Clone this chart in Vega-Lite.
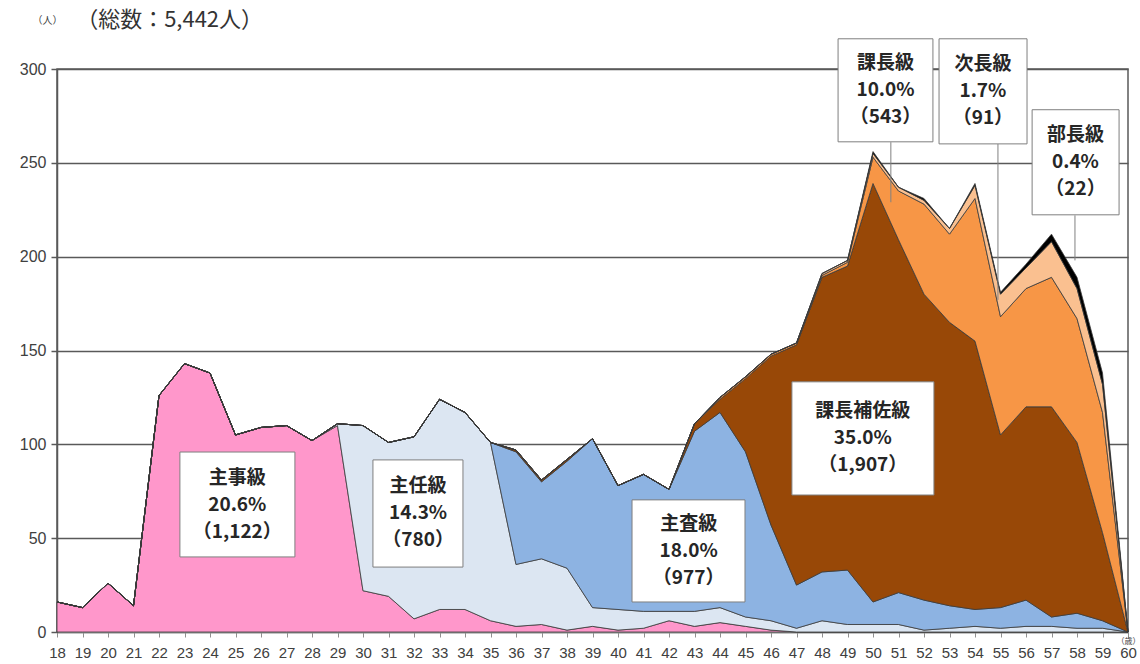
{
  "$schema": "https://vega.github.io/schema/vega-lite/v6.json",
  "width": 1071,
  "height": 563,
  "autosize": {"type": "none"},
  "padding": {"left": 57, "top": 69, "right": 12, "bottom": 32},
  "background": "white",
  "config": {
    "view": {"stroke": "#595959", "strokeWidth": 1.5},
    "font": "Liberation Sans",
    "axis": {"labelOverlap": false, "labelFlush": false},
    "axisX": {"grid": false, "labelFontSize": 15, "labelColor": "#404040", "labelPadding": 8, "tickSize": 5, "tickColor": "#909090", "domainColor": "#909090", "domainWidth": 1.5,
      "titleFontSize": 8, "titleFontWeight": "normal", "titleColor": "#404040", "titleX": 1071, "titleY": 9, "titleAlign": "center", "titleBaseline": "middle", "titleFont": "Noto Sans CJK JP"},
    "axisY": {"grid": true, "gridColor": "#595959", "gridWidth": 1.5, "labelFontSize": 16, "labelColor": "#404040", "labelPadding": 5, "tickSize": 6, "tickColor": "#595959", "tickWidth": 1.5,
      "domainColor": "#595959", "domainWidth": 1.5,
      "titleAngle": 0, "titleFontSize": 10, "titleFontWeight": "normal", "titleColor": "#404040", "titleX": -10, "titleY": -49, "titleAlign": "center", "titleBaseline": "middle", "titleFont": "Noto Sans CJK JP"}
  },
  "datasets": {
    "ages": [
      {"age":18,"主事級":16,"主任級":0,"主査級":0,"課長補佐級":0,"課長級":0,"次長級":0,"部長級":0},
      {"age":19,"主事級":13,"主任級":0,"主査級":0,"課長補佐級":0,"課長級":0,"次長級":0,"部長級":0},
      {"age":20,"主事級":26,"主任級":0,"主査級":0,"課長補佐級":0,"課長級":0,"次長級":0,"部長級":0},
      {"age":21,"主事級":14,"主任級":0,"主査級":0,"課長補佐級":0,"課長級":0,"次長級":0,"部長級":0},
      {"age":22,"主事級":126,"主任級":0,"主査級":0,"課長補佐級":0,"課長級":0,"次長級":0,"部長級":0},
      {"age":23,"主事級":143,"主任級":0,"主査級":0,"課長補佐級":0,"課長級":0,"次長級":0,"部長級":0},
      {"age":24,"主事級":138,"主任級":0,"主査級":0,"課長補佐級":0,"課長級":0,"次長級":0,"部長級":0},
      {"age":25,"主事級":105,"主任級":0,"主査級":0,"課長補佐級":0,"課長級":0,"次長級":0,"部長級":0},
      {"age":26,"主事級":109,"主任級":0,"主査級":0,"課長補佐級":0,"課長級":0,"次長級":0,"部長級":0},
      {"age":27,"主事級":110,"主任級":0,"主査級":0,"課長補佐級":0,"課長級":0,"次長級":0,"部長級":0},
      {"age":28,"主事級":102,"主任級":0,"主査級":0,"課長補佐級":0,"課長級":0,"次長級":0,"部長級":0},
      {"age":29,"主事級":110,"主任級":1,"主査級":0,"課長補佐級":0,"課長級":0,"次長級":0,"部長級":0},
      {"age":30,"主事級":22,"主任級":88,"主査級":0,"課長補佐級":0,"課長級":0,"次長級":0,"部長級":0},
      {"age":31,"主事級":19,"主任級":82,"主査級":0,"課長補佐級":0,"課長級":0,"次長級":0,"部長級":0},
      {"age":32,"主事級":7,"主任級":97,"主査級":0,"課長補佐級":0,"課長級":0,"次長級":0,"部長級":0},
      {"age":33,"主事級":12,"主任級":112,"主査級":0,"課長補佐級":0,"課長級":0,"次長級":0,"部長級":0},
      {"age":34,"主事級":12,"主任級":105,"主査級":0,"課長補佐級":0,"課長級":0,"次長級":0,"部長級":0},
      {"age":35,"主事級":6,"主任級":95,"主査級":0,"課長補佐級":0,"課長級":0,"次長級":0,"部長級":0},
      {"age":36,"主事級":3,"主任級":33,"主査級":60,"課長補佐級":1,"課長級":0,"次長級":0,"部長級":0},
      {"age":37,"主事級":4,"主任級":35,"主査級":41,"課長補佐級":1,"課長級":0,"次長級":0,"部長級":0},
      {"age":38,"主事級":1,"主任級":33,"主査級":57,"課長補佐級":1,"課長級":0,"次長級":0,"部長級":0},
      {"age":39,"主事級":3,"主任級":10,"主査級":90,"課長補佐級":0,"課長級":0,"次長級":0,"部長級":0},
      {"age":40,"主事級":1,"主任級":11,"主査級":66,"課長補佐級":0,"課長級":0,"次長級":0,"部長級":0},
      {"age":41,"主事級":2,"主任級":9,"主査級":73,"課長補佐級":0,"課長級":0,"次長級":0,"部長級":0},
      {"age":42,"主事級":6,"主任級":5,"主査級":65,"課長補佐級":0,"課長級":0,"次長級":0,"部長級":0},
      {"age":43,"主事級":3,"主任級":8,"主査級":96,"課長補佐級":4,"課長級":0,"次長級":0,"部長級":0},
      {"age":44,"主事級":5,"主任級":8,"主査級":104,"課長補佐級":7,"課長級":1,"次長級":0,"部長級":0},
      {"age":45,"主事級":3,"主任級":5,"主査級":88,"課長補佐級":39,"課長級":1,"次長級":0,"部長級":0},
      {"age":46,"主事級":1,"主任級":5,"主査級":51,"課長補佐級":90,"課長級":1,"次長級":0,"部長級":0},
      {"age":47,"主事級":0,"主任級":2,"主査級":23,"課長補佐級":128,"課長級":1,"次長級":0,"部長級":0},
      {"age":48,"主事級":0,"主任級":6,"主査級":26,"課長補佐級":157,"課長級":1,"次長級":1,"部長級":0},
      {"age":49,"主事級":0,"主任級":4,"主査級":29,"課長補佐級":162,"課長級":2,"次長級":1,"部長級":0},
      {"age":50,"主事級":0,"主任級":4,"主査級":12,"課長補佐級":223,"課長級":14,"次長級":2,"部長級":1},
      {"age":51,"主事級":0,"主任級":4,"主査級":17,"課長補佐級":188,"課長級":26,"次長級":2,"部長級":0},
      {"age":52,"主事級":0,"主任級":1,"主査級":16,"課長補佐級":163,"課長級":48,"次長級":2,"部長級":1},
      {"age":53,"主事級":0,"主任級":2,"主査級":12,"課長補佐級":151,"課長級":47,"次長級":3,"部長級":0},
      {"age":54,"主事級":0,"主任級":3,"主査級":9,"課長補佐級":143,"課長級":76,"次長級":7,"部長級":1},
      {"age":55,"主事級":0,"主任級":2,"主査級":11,"課長補佐級":92,"課長級":63,"次長級":12,"部長級":1},
      {"age":56,"主事級":0,"主任級":3,"主査級":14,"課長補佐級":103,"課長級":63,"次長級":11,"部長級":2},
      {"age":57,"主事級":0,"主任級":3,"主査級":5,"課長補佐級":112,"課長級":69,"次長級":19,"部長級":4},
      {"age":58,"主事級":0,"主任級":2,"主査級":8,"課長補佐級":91,"課長級":66,"次長級":16,"部長級":6},
      {"age":59,"主事級":0,"主任級":2,"主査級":4,"課長補佐級":47,"課長級":64,"次長級":15,"部長級":6},
      {"age":60,"主事級":0,"主任級":0,"主査級":0,"課長補佐級":0,"課長級":0,"次長級":0,"部長級":0}
    ],
    "labels": [
      {"label":"主事級\n20.6%\n（1,122）","x1":22.82,"x2":27.33,"y1":95.9,"y2":40.0,"cx":25.07,"cy":67.9},
      {"label":"主任級\n14.3%\n（780）","x1":30.39,"x2":33.92,"y1":91.7,"y2":34.6,"cx":32.16,"cy":63.2},
      {"label":"主査級\n18.0%\n（977）","x1":40.55,"x2":44.98,"y1":70.4,"y2":16.0,"cx":42.77,"cy":43.2},
      {"label":"課長補佐級\n35.0%\n（1,907）","x1":46.82,"x2":52.39,"y1":133.3,"y2":73.0,"cx":49.6,"cy":103.2},
      {"label":"課長級\n10.0%\n（543）","x1":48.63,"x2":52.35,"y1":316.1,"y2":261.2,"cx":50.49,"cy":288.7},
      {"label":"次長級\n1.7%\n（91）","x1":52.59,"x2":56.04,"y1":316.1,"y2":260.1,"cx":54.31,"cy":288.1},
      {"label":"部長級\n0.4%\n（22）","x1":56.24,"x2":59.65,"y1":278.3,"y2":222.3,"cx":57.94,"cy":250.3}
    ],
    "leaders": [
      {"x":50.7,"y1":261,"y2":229},
      {"x":54.9,"y1":260,"y2":177},
      {"x":57.92,"y1":222,"y2":198}
    ]
  },
  "layer": [
    {
      "data": {"name": "ages"},
      "transform": [
        {"fold": ["主事級","主任級","主査級","課長補佐級","課長級","次長級","部長級"], "as": ["level","count"]},
        {"lookup": "level", "from": {"data": {"values": [
          {"level":"主事級","k":1},{"level":"主任級","k":2},{"level":"主査級","k":3},{"level":"課長補佐級","k":4},
          {"level":"課長級","k":5},{"level":"次長級","k":6},{"level":"部長級","k":7}]}, "key": "level", "fields": ["k"]}}
      ],
      "mark": {"type": "area", "stroke": "#3a3a3a", "strokeWidth": 0.8, "opacity": 1, "interpolate": "linear"},
      "encoding": {
        "x": {"field": "age", "type": "quantitative", "scale": {"domain": [18, 60], "nice": false, "zero": false},
          "axis": {"values": [18,19,20,21,22,23,24,25,26,27,28,29,30,31,32,33,34,35,36,37,38,39,40,41,42,43,44,45,46,47,48,49,50,51,52,53,54,55,56,57,58,59,60], "format": "d", "title": "（歳）"}},
        "y": {"field": "count", "type": "quantitative", "stack": "zero", "scale": {"domain": [0, 300], "nice": false},
          "axis": {"values": [0,50,100,150,200,250,300], "title": "（人）"}},
        "color": {"field": "level", "type": "nominal",
          "scale": {"domain": ["主事級","主任級","主査級","課長補佐級","課長級","次長級","部長級"],
            "range": ["#FF97CB","#DCE6F2","#8DB3E2","#984807","#F79646","#FAC090","#000000"]},
          "legend": null},
        "order": {"field": "k", "type": "quantitative", "sort": "ascending"}
      }
    },
    {
      "data": {"name": "leaders"},
      "mark": {"type": "rule", "color": "#808080", "strokeWidth": 1},
      "encoding": {
        "x": {"field": "x", "type": "quantitative", "scale": {"domain": [18, 60], "nice": false, "zero": false},
          "axis": {"values": [18,19,20,21,22,23,24,25,26,27,28,29,30,31,32,33,34,35,36,37,38,39,40,41,42,43,44,45,46,47,48,49,50,51,52,53,54,55,56,57,58,59,60], "format": "d", "title": "（歳）"}},
        "y": {"field": "y1", "type": "quantitative", "scale": {"domain": [0, 300], "nice": false},
          "axis": {"values": [0,50,100,150,200,250,300], "title": "（人）"}},
        "y2": {"field": "y2"}
      }
    },
    {
      "data": {"name": "labels"},
      "mark": {"type": "rect", "fill": "white", "stroke": "#7f7f7f", "strokeWidth": 1},
      "encoding": {
        "x": {"field": "x1", "type": "quantitative", "scale": {"domain": [18, 60], "nice": false, "zero": false},
          "axis": {"values": [18,19,20,21,22,23,24,25,26,27,28,29,30,31,32,33,34,35,36,37,38,39,40,41,42,43,44,45,46,47,48,49,50,51,52,53,54,55,56,57,58,59,60], "format": "d", "title": "（歳）"}},
        "x2": {"field": "x2"},
        "y": {"field": "y1", "type": "quantitative", "scale": {"domain": [0, 300], "nice": false},
          "axis": {"values": [0,50,100,150,200,250,300], "title": "（人）"}},
        "y2": {"field": "y2"}
      }
    },
    {
      "data": {"name": "labels"},
      "mark": {"type": "text", "font": "Noto Sans CJK JP", "fontWeight": "bold", "fontSize": 19, "lineHeight": 27, "lineBreak": "\n", "dy": -27, "color": "#262626", "align": "center", "baseline": "middle"},
      "encoding": {
        "x": {"field": "cx", "type": "quantitative", "scale": {"domain": [18, 60], "nice": false, "zero": false},
          "axis": {"values": [18,19,20,21,22,23,24,25,26,27,28,29,30,31,32,33,34,35,36,37,38,39,40,41,42,43,44,45,46,47,48,49,50,51,52,53,54,55,56,57,58,59,60], "format": "d", "title": "（歳）"}},
        "y": {"field": "cy", "type": "quantitative", "scale": {"domain": [0, 300], "nice": false},
          "axis": {"values": [0,50,100,150,200,250,300], "title": "（人）"}},
        "text": {"field": "label"}
      }
    },
    {
      "data": {"values": [{"tx": 18.75, "ty": 326.2, "t": "（総数：5,442人）"}]},
      "mark": {"type": "text", "font": "Noto Sans CJK JP", "fontSize": 22, "color": "#333333", "align": "left", "baseline": "middle"},
      "encoding": {
        "x": {"field": "tx", "type": "quantitative", "scale": {"domain": [18, 60], "nice": false, "zero": false},
          "axis": {"values": [18,19,20,21,22,23,24,25,26,27,28,29,30,31,32,33,34,35,36,37,38,39,40,41,42,43,44,45,46,47,48,49,50,51,52,53,54,55,56,57,58,59,60], "format": "d", "title": "（歳）"}},
        "y": {"field": "ty", "type": "quantitative", "scale": {"domain": [0, 300], "nice": false},
          "axis": {"values": [0,50,100,150,200,250,300], "title": "（人）"}},
        "text": {"field": "t"}
      }
    }
  ]
}
